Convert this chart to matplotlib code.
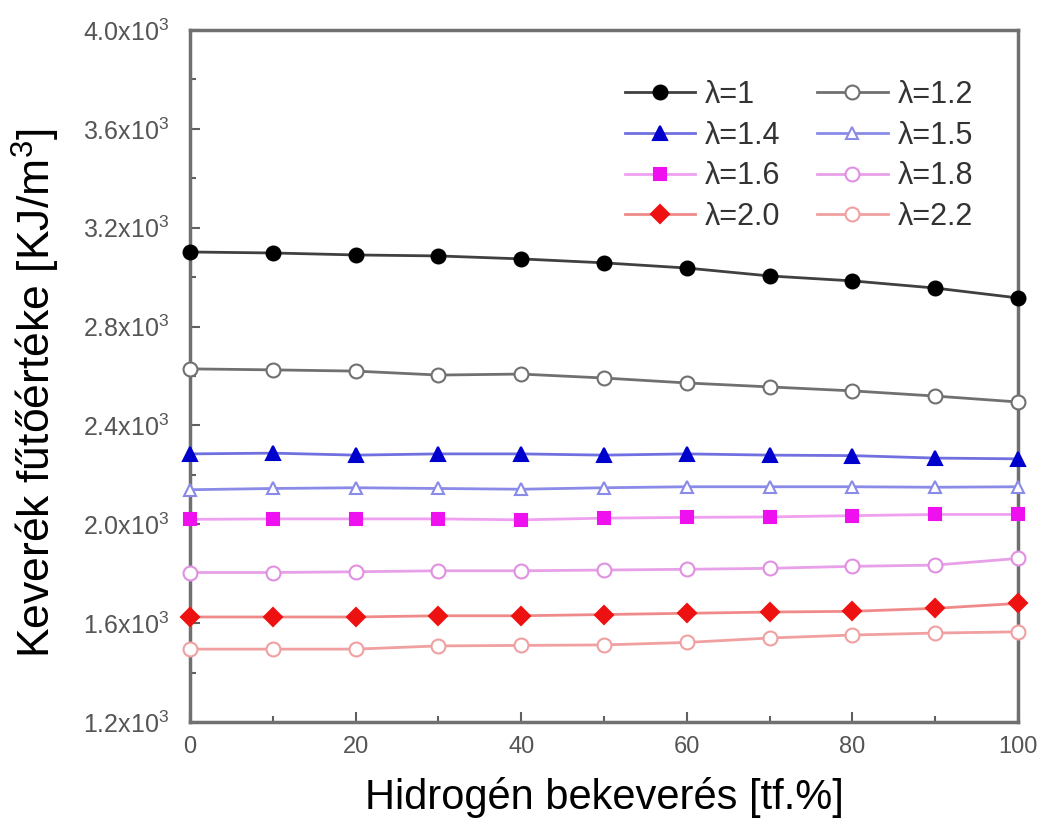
import numpy as np
import matplotlib
matplotlib.use("Agg")
import matplotlib.pyplot as plt
from matplotlib.ticker import MultipleLocator, FuncFormatter

plt.rcParams["font.family"] = ["Liberation Sans", "DejaVu Sans"]
plt.rcParams["mathtext.fontset"] = "custom"
plt.rcParams["mathtext.rm"] = "Liberation Sans"

# hydrogen share [vol.%]
h2 = [0, 10, 20, 30, 40, 50, 60, 70, 80, 90, 100]

# heating value of the mixture [kJ/m3] for each excess-air ratio
lam_10 = [3102, 3098, 3090, 3086, 3074, 3058, 3037, 3005, 2985, 2956, 2916]
lam_12 = [2629, 2625, 2620, 2604, 2608, 2592, 2572, 2556, 2540, 2519, 2495]
lam_14 = [2285, 2288, 2280, 2285, 2285, 2280, 2285, 2280, 2278, 2268, 2265]
lam_15 = [2140, 2145, 2148, 2145, 2142, 2148, 2152, 2152, 2152, 2150, 2152]
lam_16 = [2020, 2022, 2022, 2022, 2018, 2025, 2028, 2030, 2035, 2040, 2040]
lam_18 = [1805, 1805, 1808, 1812, 1812, 1815, 1818, 1822, 1830, 1835, 1862]
lam_20 = [1625, 1625, 1625, 1630, 1630, 1635, 1640, 1645, 1648, 1660, 1680]
lam_22 = [1495, 1495, 1495, 1508, 1510, 1512, 1522, 1540, 1552, 1560, 1565]

labels = ["λ=1", "λ=1.2", "λ=1.4", "λ=1.5", "λ=1.6", "λ=1.8", "λ=2.0", "λ=2.2"]
series = [lam_10, lam_12, lam_14, lam_15, lam_16, lam_18, lam_20, lam_22]

# (line colour, marker, marker edge, marker face, marker size)
styles = [
    ("#404040", "o", "black", "black", 10),
    ("#707070", "o", "#707070", "white", 10),
    ("#7070e0", "^", "#0000cc", "#0000cc", 10),
    ("#8a8ae8", "^", "#8a8ae8", "white", 9),
    ("#f0a0f0", "s", "#ee10ee", "#ee10ee", 9),
    ("#e8a0e8", "o", "#e090e0", "white", 10),
    ("#f08a8a", "D", "#ee1111", "#ee1111", 9),
    ("#f0a0a0", "o", "#f0a0a0", "white", 10),
]

fig = plt.figure(figsize=(10.41, 8.35), dpi=100)
ax = fig.add_axes([0.1825, 0.1353, 0.7955, 0.8287])

lines = []
for y, lab, (lc, mk, mec, mfc, ms) in zip(series, labels, styles):
    ln, = ax.plot(h2, y, color=lc, lw=2.0, marker=mk, mec=mec, mfc=mfc, ms=ms,
                  mew=1.5, label=lab, clip_on=False, zorder=3)
    lines.append(ln)

ax.set_xlim(0, 100)
ax.set_ylim(1200, 4000)
ax.xaxis.set_major_locator(MultipleLocator(20))
ax.xaxis.set_minor_locator(MultipleLocator(10))
ax.yaxis.set_major_locator(MultipleLocator(400))
ax.yaxis.set_minor_locator(MultipleLocator(200))
ax.yaxis.set_major_formatter(FuncFormatter(lambda v, p: f"{v/1000:.1f}x10$^3$"))

for s in ax.spines.values():
    s.set_color("#707070")
    s.set_linewidth(2.5)
ax.tick_params(which="both", direction="in", color="#606060", width=1.5,
               top=False, right=False)
ax.tick_params(which="major", length=7, labelcolor="#555555")
ax.tick_params(axis="y", which="major", labelsize=18, pad=15)
ax.tick_params(axis="x", which="major", labelsize=17, pad=10)
ax.tick_params(which="minor", length=4)

ax.set_xlabel("Hidrogén bekeverés [tf.%]", fontsize=30, labelpad=14)
ax.set_ylabel("Keverék fűtőértéke [KJ/m$^3$]", fontsize=32)
ax.yaxis.set_label_coords(-0.155, 0.475)

# legend filled row by row: matplotlib fills columns, so interleave
order = [0, 2, 4, 6, 1, 3, 5, 7]
leg = ax.legend([lines[i] for i in order], [labels[i] for i in order],
                ncol=2, loc="upper left", bbox_to_anchor=(0.525, 0.928),
                frameon=False, fontsize=22, handlelength=2.3, borderpad=0,
                borderaxespad=0, columnspacing=1.2, labelspacing=0.35,
                handletextpad=0.33)
for t in leg.get_texts():
    t.set_color("#333333")

fig.savefig("out.png", dpi=100)
